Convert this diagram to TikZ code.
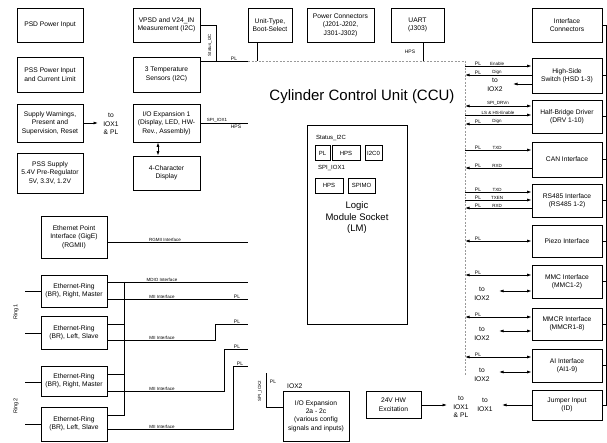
\documentclass[tikz,border=0pt]{standalone}
\usepackage{fontspec}
\setmainfont{Liberation Sans}
\usetikzlibrary{arrows.meta}
\newcommand\bx[6]{\node[box,minimum width=#4pt,minimum height=#5pt] (#1) at (#2,#3) {#6};}
\newcommand\rar[4]{\coordinate (#4) at (465,#2); \draw[#1] (#4) -- (#4 -| #3.west);}
\begin{document}
\begin{tikzpicture}[x=1pt,y=-1pt,
  box/.style={draw,line width=0.75pt,align=center,inner sep=1pt,font=\fontsize{6.7}{8.4}\selectfont},
  sbox/.style={draw,line width=0.7pt,inner sep=0pt,minimum height=15pt,font=\fontsize{6}{7}\selectfont},
  ln/.style={line width=0.75pt},
  ar/.style={ln,-{Latex[length=4.5pt,width=3pt]}},
  lar/.style={ln,{Latex[length=4.5pt,width=3pt]}-},
  dar/.style={ln,{Latex[length=4.5pt,width=3pt]}-{Latex[length=4.5pt,width=3pt]}},
  pl/.style={font=\fontsize{5}{5}\selectfont,inner sep=0.6pt,anchor=south},
  sig/.style={font=\fontsize{4.5}{5}\selectfont,inner sep=0.6pt,anchor=south},
  txt/.style={font=\fontsize{6.7}{8.4}\selectfont,align=center,inner sep=0pt},
  ccu/.style={gray!80,line width=0.75pt,dash pattern=on 2pt off 1.5pt},
]
\useasboundingbox (0,0) rectangle (607,443);
% left columns
\bx{psd}{50}{25}{66}{34}{PSD Power Input}
\bx{pss}{50}{74.5}{66}{35}{PSS Power Input\\and Current Limit}
\bx{sw}{50}{123}{66}{38}{Supply Warnings,\\Present and\\Supervision, Reset}
\bx{pssup}{50}{173}{66}{40}{PSS Supply\\5.4V Pre-Regulator\\5V, 3.3V, 1.2V}
\bx{vpsd}{166.5}{25}{67}{34}{VPSD and V24\_IN\\Measurement (I2C)}
\bx{temp}{166.5}{74.5}{67}{35}{3 Temperature\\Sensors (I2C)}
\bx{iox1}{166.5}{123}{67}{38}{I/O Expansion 1\\(Display, LED, HW-\\Rev., Assembly)}
\bx{disp}{166.5}{173}{67}{34}{4-Character\\Display}
% top row
\bx{ut}{270}{25}{44}{34}{Unit-Type,\\Boot-Select}
\bx{pc}{340.5}{25}{67}{34}{Power Connectors\\(J201-J202,\\J301-J302)}
\bx{uart}{417.5}{25}{53}{34}{UART\\(J303)}
\bx{ic}{567}{25}{70}{34}{Interface\\Connectors}
% right column
\bx{hsd}{567}{75.5}{70}{35}{High-Side\\Switch (HSD 1-3)}
\bx{hb}{567}{116.5}{70}{33}{Half-Bridge Driver\\(DRV 1-10)}
\bx{can}{567}{159.5}{70}{35}{CAN Interface}
\bx{rs}{567}{200.5}{70}{33}{RS485 Interface\\(RS485 1-2)}
\bx{pz}{567}{241}{70}{32}{Piezo Interface}
\bx{mmc}{567}{281.5}{70}{33}{MMC Interface\\(MMC1-2)}
\bx{mmcr}{567}{324}{70}{32}{MMCR Interface\\(MMCR1-8)}
\bx{ai}{567}{365.5}{70}{33}{AI Interface\\(AI1-9)}
\bx{jp}{567}{405}{70}{30}{Jumper Input\\(ID)}
% ethernet
\bx{eth}{74}{237}{66}{42}{Ethernet Point\\Interface (GigE)\\(RGMII)}
\bx{r1m}{74}{291}{66}{32}{Ethernet-Ring\\(BR), Right, Master}
\bx{r1s}{74}{332.5}{66}{33}{Ethernet-Ring\\(BR), Left, Slave}
\bx{r2m}{74}{381}{66}{30}{Ethernet-Ring\\(BR), Right, Master}
\bx{r2s}{74}{424}{66}{34}{Ethernet-Ring\\(BR), Left, Slave}
% bottom center
\bx{iox2}{316}{416}{66}{50}{I/O Expansion\\2a - 2c\\(various config\\signals and inputs)}
\bx{hw}{393.5}{404.5}{55}{27}{24V HW\\Excitation}
% LM
\node[draw,line width=0.75pt,minimum width=100pt,minimum height=199pt] (lm) at (357,224.5) {};
\node[font=\fontsize{6}{7}\selectfont,anchor=west,inner sep=0pt] (st) at (316,138) {Status\_I2C};
\node[sbox,minimum width=15pt] (s1) at (322.5,153) {PL};
\node[sbox,minimum width=28pt] (s2) at (346,153) {HPS};
\node[sbox,minimum width=17pt] (s3) at (373.5,153) {I2C0};
\node[font=\fontsize{6}{7}\selectfont,anchor=west,inner sep=0pt] (sp) at (318,168) {SPI\_IOX1};
\node[sbox,minimum width=28pt] (s4) at (329,185.5) {HPS};
\node[sbox,minimum width=27pt] (s5) at (361.5,185.5) {SPIMO};
\node[font=\fontsize{9.5}{11.5}\selectfont,align=center] (lmt) at (357,218) {Logic\\Module Socket\\(LM)};
% title
\node[font=\fontsize{15}{15}\selectfont] (title) at (362,97) {Cylinder Control Unit (CCU)};
% CCU boundary
\coordinate (dTL) at (248,61); \coordinate (dTR) at (465,61); \coordinate (dB) at (465,375);
\draw[ccu] (dTL) -- (dTR) -- (dB);
% top connections
\draw[ln] (temp.east |- dTL) -- (dTL);
\node[pl] at (234,61) {PL};
\coordinate (sI) at (216,61);
\draw[ln] (vpsd.east) -| (sI);
\node[sig,rotate=90,anchor=center] at (210,45) {Status\_I2C};
\coordinate (utL) at (257,61); \draw[ln] (utL |- ut.south) -- (utL);
\coordinate (uaL) at (423,61); \draw[ln] (uaL |- uart.south) -- (uaL);
\node[pl,anchor=center] at (410,52) {HPS};
\coordinate (spiE) at (248,123); \draw[ln] (iox1.east |- spiE) -- (spiE);
\node[sig] at (217,123) {SPI\_IOX1};
\node[pl,anchor=north] at (236,124) {HPS};
\coordinate (swA) at (98,123); \draw[ar] (sw.east |- swA) -- (swA);
\node[txt] at (111,124) {to\\IOX1\\\& PL};
\coordinate (dx) at (158,0); \draw[dar] (dx |- iox1.south) -- (dx |- disp.north);
% right side arrows
\rar{ar}{66}{hsd}{h1} \node[pl] at (478,66) {PL}; \node[sig] at (497,66) {Enable};
\rar{lar}{75}{hsd}{h2} \node[pl] at (478,75) {PL}; \node[sig] at (497,75) {Dign};
\coordinate (h3) at (513,84); \draw[ar] (h3 -| hsd.west) -- (h3);
\node[txt] at (495,85) {to\\IOX2};
\rar{dar}{106}{hb}{b1} \node[sig] at (498,106) {SPI\_DRVn};
\rar{ar}{115}{hb}{b2} \node[sig] at (498,115) {LS \& HS-Enable};
\rar{lar}{124}{hb}{b3} \node[pl] at (478,124) {PL}; \node[sig] at (497,124) {Dign};
\rar{ar}{150}{can}{c1} \node[pl] at (478,150) {PL}; \node[sig] at (497,150) {TXD};
\rar{lar}{168}{can}{c2} \node[pl] at (478,168) {PL}; \node[sig] at (497,168) {RXD};
\rar{ar}{192}{rs}{r1} \node[pl] at (478,192) {PL}; \node[sig] at (497,192) {TXD};
\rar{ar}{200}{rs}{r2} \node[pl] at (478,200) {PL}; \node[sig] at (497,200) {TXEN};
\rar{lar}{208}{rs}{r3} \node[pl] at (478,208) {PL}; \node[sig] at (497,208) {RXD};
\rar{dar}{241}{pz}{p1} \node[pl] at (478,241) {PL};
\rar{dar}{275}{mmc}{mm1} \node[pl] at (478,275) {PL};
\coordinate (mm2) at (499,291); \draw[dar] (mm2) -- (mm2 -| mmc.west);
\node[txt] at (482,294) {to\\IOX2};
\rar{dar}{317}{mmcr}{mr1} \node[pl] at (478,317) {PL};
\coordinate (mr2) at (499,331); \draw[dar] (mr2) -- (mr2 -| mmcr.west);
\node[txt] at (482,334) {to\\IOX2};
\rar{dar}{357}{ai}{a1} \node[pl] at (478,357) {PL};
\coordinate (a2) at (499,372); \draw[dar] (a2) -- (a2 -| ai.west);
\node[txt] at (482,375) {to\\IOX2};
\coordinate (j1) at (502,405); \draw[ar] (j1 -| jp.west) -- (j1);
\node[txt] at (485,405) {to\\IOX1};
\coordinate (hwA) at (447,405); \draw[ar] (hw.east |- hwA) -- (hwA);
\node[txt] at (461,407) {to\\IOX1\\\& PL};
% right bus
\coordinate (busT) at (606,25); \coordinate (busB) at (606,405);
\draw[ln] (ic.east) -- (busT) -- (busB) -- (jp.east);
\foreach \b in {hsd,hb,can,rs,pz,mmc,mmcr,ai} \draw[ln] (\b.east) -- (\b.east -| busT);
% IOX2
\node[txt,anchor=west] at (287,386) {IOX2};
\coordinate (s2t) at (266,373); \coordinate (s2b) at (266,407);
\draw[ln] (s2t) -- (s2b) -- (s2b -| iox2.west);
\node[pl,anchor=center] at (273,382) {PL};
\node[sig,rotate=90,anchor=center] at (260,391) {SPI\_IOX2};
% ethernet lines
\coordinate (rg) at (248,242); \draw[ln] (eth.east |- rg) -- (rg);
\node[sig] at (165,242) {RGMII Interface};
\coordinate (r1ms) at (25,291); \draw[ln] (r1ms) -- (r1ms -| r1m.west);
\coordinate (r1ss) at (25,333); \draw[ln] (r1ss) -- (r1ss -| r1s.west);
\coordinate (r2ms) at (25,382); \draw[ln] (r2ms) -- (r2ms -| r2m.west);
\coordinate (r2ss) at (25,424); \draw[ln] (r2ss) -- (r2ss -| r2s.west);
\node[font=\fontsize{5.5}{6}\selectfont,rotate=90] at (16,312) {Ring 1};
\node[font=\fontsize{5.5}{6}\selectfont,rotate=90] at (16,406) {Ring 2};
\coordinate (mdE) at (248,282); \draw[ln] (r1m.east |- mdE) -- (mdE);
\node[sig] at (162,282) {MDIO Interface};
\coordinate (mbT) at (124,282); \coordinate (mbB) at (124,415);
\draw[ln] (mbT) -- (mbB) -- (mbB -| r2s.east);
\coordinate (mb1) at (124,324); \draw[ln] (mb1) -- (mb1 -| r1s.east);
\coordinate (mb2) at (124,374); \draw[ln] (mb2) -- (mb2 -| r2m.east);
\coordinate (m1) at (248,299); \draw[ln] (r1m.east |- m1) -- (m1);
\node[sig] at (162,299) {MII Interface}; \node[pl] at (237,299) {PL};
\coordinate (m2) at (248,324); \coordinate (m2b) at (215,340);
\draw[ln] (m2b -| r1s.east) -- (m2b) |- (m2);
\node[sig] at (162,340) {MII Interface}; \node[pl] at (237,324) {PL};
\coordinate (m3) at (248,349); \coordinate (m3b) at (224,391);
\draw[ln] (m3b -| r2m.east) -- (m3b) |- (m3);
\node[sig] at (162,391) {MII Interface}; \node[pl] at (237,349) {PL};
\coordinate (m4) at (248,366); \coordinate (m4b) at (233,429);
\draw[ln] (m4b -| r2s.east) -- (m4b) |- (m4);
\node[sig] at (162,429) {MII Interface}; \node[pl] at (240,366) {PL};
\end{tikzpicture}
\end{document}
